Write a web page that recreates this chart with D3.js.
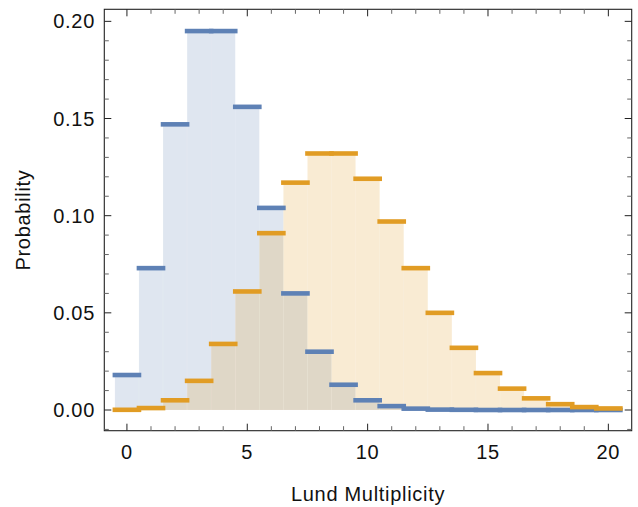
<!DOCTYPE html>
<html><head><meta charset="utf-8">
<script src="https://cdn.jsdelivr.net/npm/d3@7"></script>
<style>body{margin:0;background:#fff}svg{display:block}</style>
</head><body>
<script>
const multiplicity = d3.range(0, 21);
const seriesA = [0.018, 0.073, 0.147, 0.195, 0.195, 0.156, 0.104, 0.060, 0.030, 0.013, 0.005, 0.002, 0.0007, 0.0002, 0.0001, 0, 0, 0, 0, 0, 0];
const seriesB = [0.0001, 0.001, 0.005, 0.015, 0.034, 0.061, 0.091, 0.117, 0.132, 0.132, 0.119, 0.097, 0.073, 0.050, 0.032, 0.019, 0.011, 0.006, 0.003, 0.0015, 0.0008];
const xTicks = [0, 5, 10, 15, 20];
const yTicks = [0, 0.05, 0.10, 0.15, 0.20];
const colors = ["#5e81b5", "#e19c24"];

const W = 638, H = 507;
const L = 104.3, R = 631.7, T = 9.3, B = 430.7;
const svg = d3.select("body").append("svg").attr("width", W).attr("height", H);
const x = d3.scaleLinear().domain([-0.94, 20.97]).range([L, R]);
const y = d3.scaleLinear().domain([-0.01065, 0.2062]).range([B, T]);

const series = [seriesA, seriesB];
const g = svg.append("g");
// fills
series.forEach((vals, si) => {
  g.append("g").selectAll("rect").data(multiplicity).join("rect")
    .attr("x", k => x(k - 0.5)).attr("width", k => x(k + 0.5) - x(k - 0.5))
    .attr("y", k => y(vals[k])).attr("height", k => y(0) - y(vals[k]))
    .attr("fill", colors[si]).attr("fill-opacity", 0.2)
    .attr("stroke", "#fff").attr("stroke-opacity", 0.12).attr("stroke-width", 0.8);
});
// step tops
series.forEach((vals, si) => {
  g.append("g").selectAll("line").data(multiplicity).join("line")
    .attr("x1", k => x(k - 0.5)).attr("x2", k => x(k + 0.5))
    .attr("y1", k => y(vals[k])).attr("y2", k => y(vals[k]))
    .attr("stroke", colors[si]).attr("stroke-width", 4.6).attr("stroke-linecap", "square");
});

// frame
svg.append("rect").attr("x", L).attr("y", T).attr("width", R - L).attr("height", B - T)
  .attr("fill", "none").attr("stroke", "#222").attr("stroke-width", 1.1);

// ticks
const tk = svg.append("g");
const xMinor = d3.range(0, 21);
xMinor.forEach(v => {
  const major = v % 5 === 0;
  const len = major ? 7 : 4.5;
  const col = major ? "#222" : "#666";
  tk.append("line").attr("x1", x(v)).attr("x2", x(v)).attr("y1", B).attr("y2", B - len).attr("stroke", col);
  tk.append("line").attr("x1", x(v)).attr("x2", x(v)).attr("y1", T).attr("y2", T + len).attr("stroke", col);
});
const yMinor = d3.range(-1, 21).map(i => i / 100);
yMinor.forEach((v, i) => {
  const major = Math.round(v * 100) % 5 === 0;
  const len = major ? 7 : 4.5;
  const col = major ? "#222" : "#666";
  tk.append("line").attr("x1", L).attr("x2", L + len).attr("y1", y(v)).attr("y2", y(v)).attr("stroke", col);
  tk.append("line").attr("x1", R).attr("x2", R - len).attr("y1", y(v)).attr("y2", y(v)).attr("stroke", col);
});

const font = "'Liberation Sans', Arial, sans-serif";
const lab = svg.append("g").attr("font-family", font).attr("font-size", 20).attr("fill", "#111").attr("letter-spacing", "0.7px");
lab.selectAll(".xt").data(xTicks).join("text")
  .attr("x", d => x(d)).attr("y", 459).attr("text-anchor", "middle").text(d => d);
lab.selectAll(".yt").data(yTicks).join("text")
  .attr("x", 95).attr("y", d => y(d) + 7).attr("text-anchor", "end").text(d => d.toFixed(2));
lab.append("text").attr("x", (L + R) / 2).attr("y", 501).attr("text-anchor", "middle").text("Lund Multiplicity");
lab.append("text").attr("transform", `translate(30,${(T + B) / 2}) rotate(-90)`).attr("text-anchor", "middle").text("Probability");
</script>
</body></html>
